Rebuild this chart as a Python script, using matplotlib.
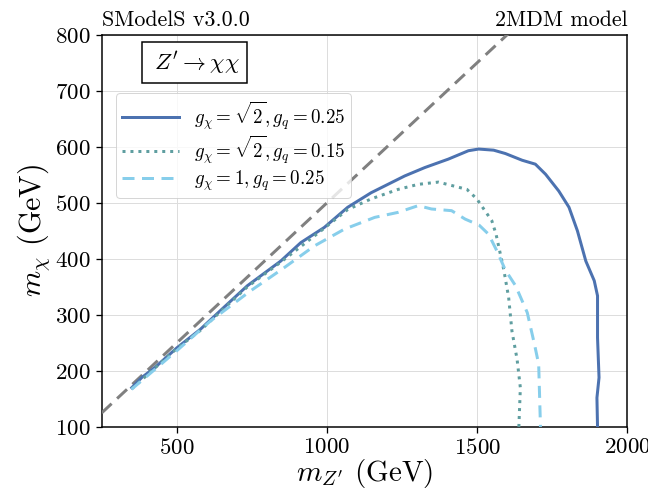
import numpy as np
import matplotlib
matplotlib.use("Agg")
import matplotlib.pyplot as plt

plt.rcParams['font.family'] = 'cmr10'
plt.rcParams['mathtext.fontset'] = 'cm'
plt.rcParams['axes.formatter.use_mathtext'] = True

# g_chi = sqrt(2), g_q = 0.25
mz_a = [350, 383, 427, 500, 578, 656, 735, 846, 913, 991, 1069, 1147, 1259, 1326,
        1404, 1471, 1505, 1555, 1594, 1650, 1694, 1728, 1772, 1806, 1834, 1862,
        1890, 1901, 1901, 1906, 1899, 1901]
mchi_a = [170, 188, 206, 241, 274, 313, 352, 396, 429, 456, 492, 518, 548, 563,
          578, 593, 596, 594, 588, 576, 569, 551, 521, 492, 450, 396,
          361, 334, 259, 188, 152, 100]

# g_chi = sqrt(2), g_q = 0.15
mz_b = [350, 427, 500, 578, 656, 735, 846, 980, 1069, 1147, 1237, 1304, 1371,
        1466, 1499, 1549, 1563, 1589, 1605, 1616, 1633, 1644, 1639]
mchi_b = [168, 205, 240, 272, 311, 350, 394, 450, 488, 507, 524, 533, 537,
          524, 507, 468, 444, 380, 331, 271, 221, 170, 100]

# g_chi = 1, g_q = 0.25
mz_c = [349, 500, 612, 746, 857, 958, 1058, 1159, 1237, 1304, 1348, 1415, 1460,
        1507, 1538, 1566, 1594, 1628, 1667, 1692, 1705, 1711]
mchi_c = [167, 236, 289, 343, 384, 423, 453, 474, 483, 495, 489, 486, 471,
          460, 444, 414, 380, 352, 304, 245, 212, 100]

labels = [r'$g_\chi = \sqrt{2}, g_q = 0.25$',
          r'$g_\chi = \sqrt{2}, g_q = 0.15$',
          r'$g_\chi = 1, g_q = 0.25$']

fig = plt.figure(figsize=(9, 7), dpi=72)
ax = fig.add_axes([0.157, 0.153, 0.811, 0.778])

diag = np.array([250, 1700])
ax.plot(diag, diag / 2, color='gray', ls='--', lw=3, dashes=(4.5, 2.5), zorder=3)

ax.plot(mz_a, mchi_a, color='#4c72b0', lw=3, label=labels[0], zorder=4)
ax.plot(mz_b, mchi_b, color='#5f9ea0', lw=3, ls=':', label=labels[1], zorder=4)
ax.plot(mz_c, mchi_c, color='#87ceeb', lw=3, ls='--', dashes=(4, 2.5), label=labels[2], zorder=4)

ax.set_xlim(250, 2000)
ax.set_ylim(100, 800)
ax.set_xticks([500, 1000, 1500, 2000])
ax.set_yticks(range(100, 801, 100))
ax.tick_params(labelsize=23, width=1.3, length=6, pad=5)
for s in ax.spines.values():
    s.set_linewidth(1.5)
ax.grid(True, color='#dddddd', lw=1)
ax.set_axisbelow(True)

ax.set_xlabel(r"$m_{Z'}$ (GeV)", fontsize=29, labelpad=-1)
ax.set_ylabel(r"$m_\chi$ (GeV)", fontsize=30, labelpad=3)
ax.set_title('SModelS v3.0.0', loc='left', fontsize=22, pad=9)
ax.set_title('2MDM model', loc='right', fontsize=22, pad=9)

ax.text(0.177, 0.929, r"$\;Z' \rightarrow \chi\chi\;$", transform=ax.transAxes,
        fontsize=23, ha='center', va='center',
        bbox=dict(boxstyle='square,pad=0.3', fc='white', ec='black', lw=1.5))

ax.legend(loc='upper left', bbox_to_anchor=(0.02, 0.86), fontsize=19,
          framealpha=0.8, handlelength=3.0, borderpad=0.3, labelspacing=0.1,
          borderaxespad=0.2)

fig.savefig('out.png', dpi=72)
